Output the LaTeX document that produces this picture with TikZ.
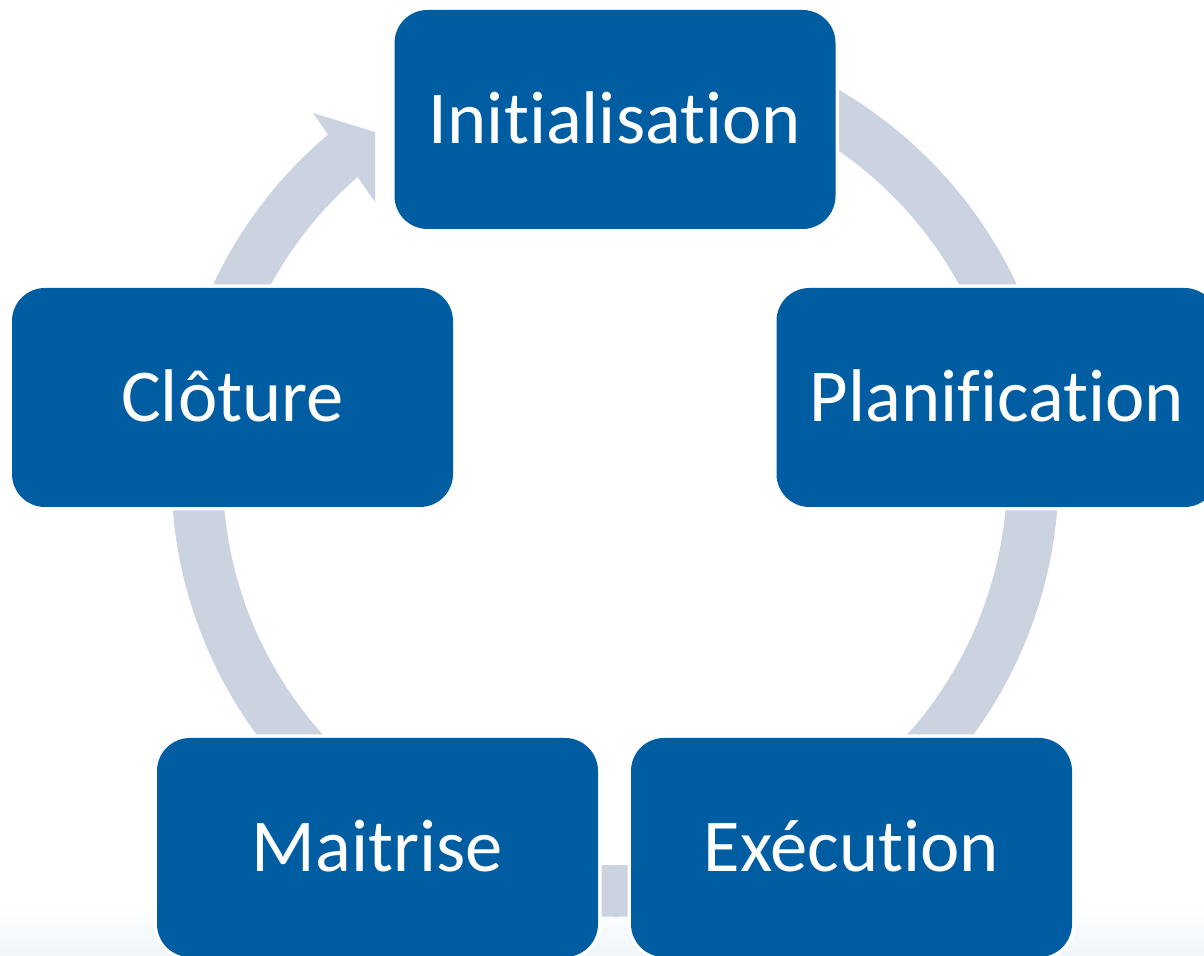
\documentclass[tikz,border=0pt]{standalone}
\usepackage{fontspec}
\setmainfont{Carlito}[RawFeature={-liga;-clig;-dlig;-calt}]
\definecolor{stageblue}{RGB}{0,93,162}
\definecolor{ringgray}{RGB}{203,211,225}
\definecolor{bottomtint}{RGB}{240,246,250}

\begin{document}
\begin{tikzpicture}[x=0.5pt,y=0.5pt,
  stage/.style={rectangle,rounded corners=16.5pt,fill=stageblue,text=white,
    minimum width=220.5pt,minimum height=109.5pt,inner sep=0pt,
    text height=24.2pt,text depth=0pt,font=\fontsize{37.3}{41}\selectfont,
    preaction={draw=white,line width=3.5pt}},
  ring/.style={draw=ringgray,line width=25.75pt}]
\clip (0,0) rectangle (1204,956);
\shade[top color=white,bottom color=bottomtint] (0,0) rectangle (1204,56);
% cycle ring with arrow head into the first stage
\coordinate (ring) at (615,483);
\draw[ring] (ring) ++(129:209pt) arc[start angle=129,end angle=421,radius=209pt];
\fill[ringgray] (313,843) -- (375,824) -- (375,754) -- cycle;
% stages
\node[stage] (init) at (615,836.5) {Initialisation};
\node[stage] (plan) at (997,558.5) {Planification};
\node[stage] (exec) at (851.5,108.5) {Exécution};
\node[stage] (mait) at (377.5,108.5) {Maitrise};
\node[stage] (clot) at (232.5,558.5) {Clôture};
\end{tikzpicture}
\end{document}
